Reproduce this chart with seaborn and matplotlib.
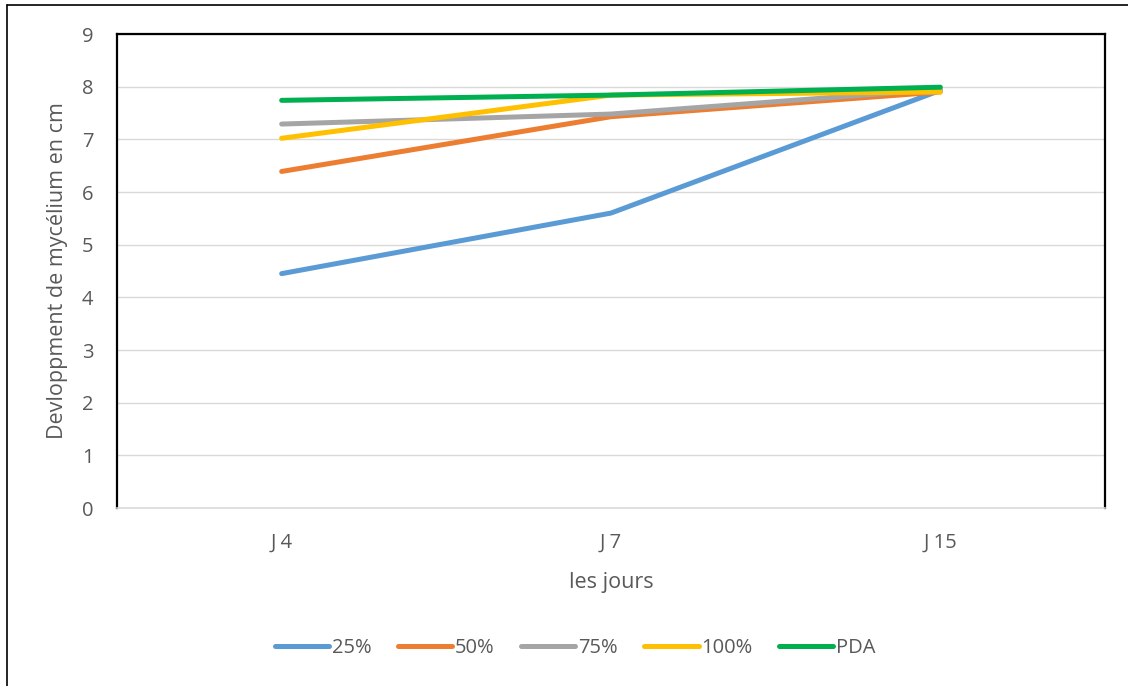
import matplotlib
matplotlib.use("Agg")
import matplotlib.pyplot as plt
import seaborn as sns
import pandas as pd
from matplotlib.lines import Line2D

days = ["J 4", "J 7", "J 15"]
s25 = [4.45, 5.6, 7.93]
s50 = [6.39, 7.43, 7.9]
s75 = [7.29, 7.48, 7.95]
s100 = [7.02, 7.84, 7.9]
pda = [7.74, 7.84, 7.99]
series_names = ["25%", "50%", "75%", "100%", "PDA"]
colors = ["#5B9BD5", "#ED7D31", "#A5A5A5", "#FFC000", "#00B050"]

rows = []
for name, vals in zip(series_names, [s25, s50, s75, s100, pda]):
    for i, (d, v) in enumerate(zip(days, vals)):
        rows.append({"day": d, "pos": i, "value": v, "serie": name})
df = pd.DataFrame(rows)

sns.set_theme(style="white")
plt.rcParams["font.family"] = ["Open Sans", "DejaVu Sans"]
txt = "#595959"

fig = plt.figure(figsize=(11.28, 6.86), dpi=100)
ax = fig.add_axes([117/1128, 1-508/686, (1105-117)/1128, (508-34)/686])

sns.lineplot(data=df, x="pos", y="value", hue="serie", hue_order=series_names,
             palette=colors, linewidth=3.6, ax=ax, legend=False,
             solid_capstyle="round")

ax.set_xlim(-0.5, 2.5)
ax.set_ylim(0, 9)
ax.set_yticks(range(10))
ax.set_xticks(range(3))
ax.set_xticklabels(days)
ax.set_xticks([-0.5, 0.5, 1.5, 2.5], minor=True)
ax.tick_params(axis="x", which="major", length=0, pad=18, labelsize=14.5, labelcolor=txt)
ax.tick_params(axis="x", which="minor", length=6, color="#D9D9D9", width=1, direction="out")
ax.tick_params(axis="y", length=0, pad=17, labelsize=14.5, labelcolor=txt)
ax.yaxis.grid(True, color="#D9D9D9", linewidth=1)
ax.set_axisbelow(True)

for side in ["left", "top", "right"]:
    ax.spines[side].set_color("black")
    ax.spines[side].set_linewidth(1.6)
ax.spines["bottom"].set_color("#D9D9D9")
ax.spines["bottom"].set_linewidth(1.2)

ax.set_xlabel("les jours", fontsize=15.5, color=txt, labelpad=14)
ax.set_ylabel("Devloppment de mycélium en cm", fontsize=15.5, color=txt, labelpad=10)

handles = [Line2D([0], [0], color=c, linewidth=3.6, solid_capstyle="round") for c in colors]
fig.legend(handles, series_names, loc="center", bbox_to_anchor=(0.51, 1-648/686),
           ncol=5, frameon=False, fontsize=14.5, handlelength=2.7, handletextpad=0.15,
           columnspacing=1.3, labelcolor=txt)

# outer frame lines (left and top)
fig.add_artist(Line2D([7/1128, 7/1128], [0, 1-5/686], color="black", linewidth=1.2,
                      transform=fig.transFigure))
fig.add_artist(Line2D([7/1128, 1], [1-5/686, 1-5/686], color="black", linewidth=1.2,
                      transform=fig.transFigure))

fig.savefig("out.png", dpi=100, facecolor="white")
